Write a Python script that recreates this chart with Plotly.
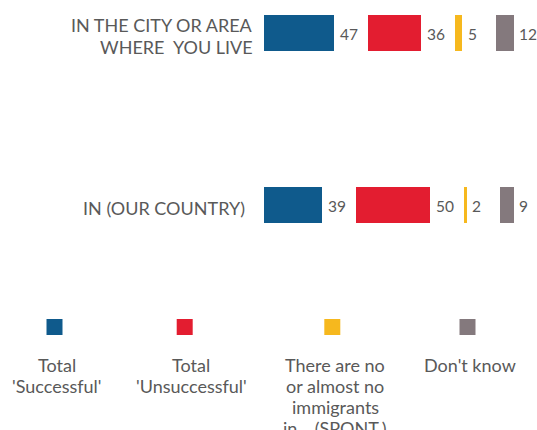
import plotly.graph_objects as go

# ---- data ----
categories = ["IN (OUR COUNTRY)", "IN THE CITY OR AREA<br>WHERE  YOU LIVE"]
series_names = [
    "Total<br>'Successful'",
    "Total<br>'Unsuccessful'",
    "There are no<br>or almost no<br>immigrants<br>in... (SPONT.)",
    "Don't know",
]
successful = [39, 47]
unsuccessful = [50, 36]
no_immigrants = [2, 5]
dont_know = [9, 12]

colors = ["#0F5A8C", "#E31D30", "#F6B81E", "#84797D"]
text_color = "#595959"
FONT = "Lato"

W, H = 537, 430
GAP = 22.5          # blank spacer between segments, in axis units
BAR_W = 0.215

series = [successful, unsuccessful, no_immigrants, dont_know]

fig = go.Figure()
annotations = []
cum = [0.0] * len(categories)
for i, (vals, name, color) in enumerate(zip(series, series_names, colors)):
    fig.add_trace(go.Bar(
        y=categories, x=vals, orientation="h", name=name,
        marker=dict(color=color, line=dict(width=0)),
        width=BAR_W, showlegend=False,
    ))
    cum = [c + v for c, v in zip(cum, vals)]
    for cat, c, v in zip(categories, cum, vals):
        annotations.append(dict(
            x=c, y=cat, xref="x", yref="y", text=str(v), showarrow=False,
            xanchor="left", xshift=4, yshift=-1,
            font=dict(family=FONT, size=15.5, color=text_color),
        ))
    if i < len(series) - 1:
        fig.add_trace(go.Bar(
            y=categories, x=[GAP] * len(categories), orientation="h",
            marker=dict(color="rgba(0,0,0,0)", line=dict(width=0)),
            width=BAR_W, showlegend=False, hoverinfo="skip",
        ))
        cum = [c + GAP for c in cum]

# ---- category labels (one annotation per line, right aligned) ----
label_gap = [17, 8.5]      # px between label and bars, per category
CAT_PITCH = 22
for cat, gap in zip(categories, label_gap):
    lines = cat.split("<br>")
    n = len(lines)
    for j, line in enumerate(lines):
        off = (j - (n - 1) / 2) * CAT_PITCH + 2.5   # px below bar centre
        annotations.append(dict(
            x=0, y=cat, xref="x", yref="y", text=line, showarrow=False,
            xanchor="right", yanchor="middle", xshift=-gap, yshift=-off,
            font=dict(family=FONT, size=18, color=text_color),
        ))

# ---- custom legend (squares above centred labels) ----
sq_centers = [54.5, 184.7, 332.3, 467.5]
txt_centers = [57, 191, 335, 470]
SQ = 16
LINE1, PITCH = 364.5, 21.2
for cx, tx, name, color in zip(sq_centers, txt_centers, series_names, colors):
    fig.add_shape(type="rect", xref="paper", yref="paper",
                  x0=(cx - SQ / 2) / W, x1=(cx + SQ / 2) / W,
                  y0=1 - 335 / H, y1=1 - 319 / H,
                  fillcolor=color, line=dict(width=0))
    for j, line in enumerate(name.split("<br>")):
        ypx = LINE1 + PITCH * j
        annotations.append(dict(
            x=tx / W, y=1 - ypx / H, xref="paper", yref="paper", text=line,
            showarrow=False, xanchor="center", yanchor="middle", align="center",
            font=dict(family=FONT, size=18, color=text_color),
        ))

x0_px = 263.5
scale = 1.49  # px per unit
row_top, row_bot, plot_bottom = 33, 205, 240
fig.update_layout(
    width=W, height=H,
    margin=dict(l=0, r=0, t=0, b=0),
    barmode="stack",
    bargap=0,
    paper_bgcolor="white", plot_bgcolor="white",
    xaxis=dict(domain=[x0_px / W, 1], range=[0, (W - x0_px) / scale],
               visible=False, fixedrange=True),
    yaxis=dict(domain=[1 - plot_bottom / H, 1], type="category", categoryorder="array",
               categoryarray=categories,
               range=[-(plot_bottom - row_bot) / (row_bot - row_top),
                      1 + row_top / (row_bot - row_top)],
               showgrid=False, zeroline=False, showline=False,
               showticklabels=False, ticks="", fixedrange=True),
    annotations=annotations,
    showlegend=False,
)

# remove the default 8px page margin so the figure fills the window exactly
fig.write_html("out.html", config={"displayModeBar": False},
               post_script="document.body.style.margin='0';document.body.style.overflow='hidden';")
